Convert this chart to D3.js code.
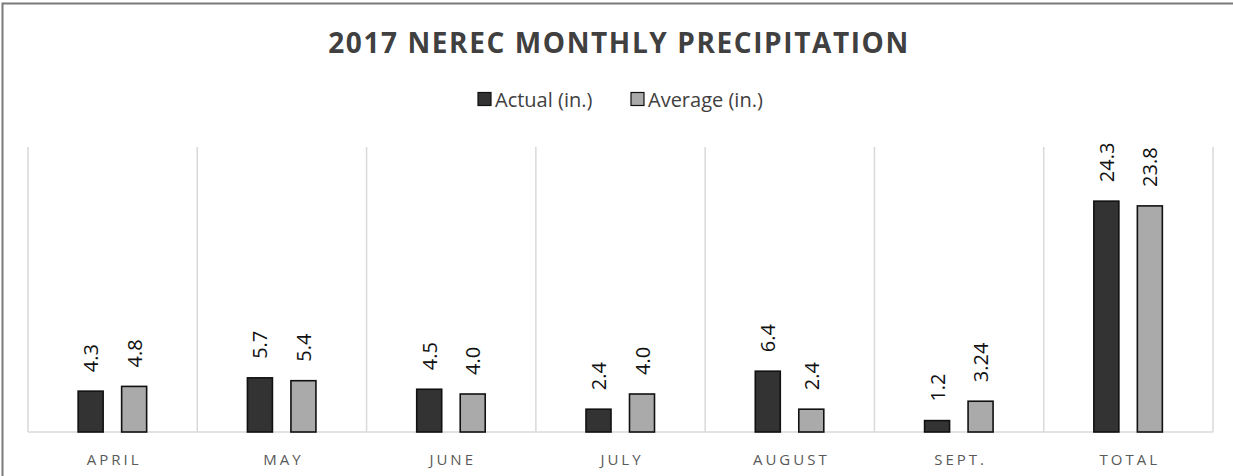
<!DOCTYPE html>
<html><head><meta charset="utf-8">
<script src="https://cdn.jsdelivr.net/npm/d3@7"></script>
<style>body{margin:0;background:#fff;} svg{display:block;}</style>
</head><body>
<script>
const categories = ["APRIL","MAY","JUNE","JULY","AUGUST","SEPT.","TOTAL"];
const actual = [4.3, 5.7, 4.5, 2.4, 6.4, 1.2, 24.3];
const average = [4.8, 5.4, 4.0, 4.0, 2.4, 3.24, 23.8];
const actualLabels = ["4.3","5.7","4.5","2.4","6.4","1.2","24.3"];
const averageLabels = ["4.8","5.4","4.0","4.0","2.4","3.24","23.8"];
const seriesNames = ["Actual (in.)","Average (in.)"];

const W = 1233, H = 476;
const svg = d3.select("body").append("svg").attr("width", W).attr("height", H);
svg.append("rect").attr("width", W).attr("height", H).attr("fill", "#fff");
// frame
svg.append("path").attr("d", `M2.5,${H} V3.5 H${W}`).attr("fill","none").attr("stroke","#7a7a7a").attr("stroke-width",2);

const x0 = d3.scaleBand().domain(categories).range([28, 1213]).padding(0);
const y = d3.scaleLinear().domain([0, 30]).range([432, 147]);

// gridlines (category separators)
const bounds = categories.map(c => x0(c)).concat([x0.range()[1]]);
svg.selectAll("line.grid").data(bounds).enter().append("line")
  .attr("x1", d => d).attr("x2", d => d).attr("y1", y(30)).attr("y2", y(0))
  .attr("stroke", "#d9d9d9").attr("stroke-width", 1.5);
svg.append("line").attr("x1", x0.range()[0]).attr("x2", x0.range()[1]).attr("y1", y(0)).attr("y2", y(0))
  .attr("stroke", "#d9d9d9").attr("stroke-width", 1.5);

const series = [
  {vals: actual, labels: actualLabels, fill: "#333333"},
  {vals: average, labels: averageLabels, fill: "#aaaaaa"}
];
const bw = 25;
series.forEach((s, si) => {
  const g = svg.append("g");
  categories.forEach((c, i) => {
    const cx = x0(c) + x0.bandwidth()/2 + (si === 0 ? -22 : 21.5);
    g.append("rect").attr("x", cx - bw/2).attr("y", y(s.vals[i])).attr("width", bw)
      .attr("height", y(0) - y(s.vals[i])).attr("fill", s.fill).attr("stroke", "#111").attr("stroke-width", 1.6);
    g.append("text").attr("transform", `translate(${cx + 7.5},${y(s.vals[i]) - 19}) rotate(-90)`)
      .attr("font-family", "Open Sans, sans-serif").attr("font-size", 20).attr("fill", "#111")
      .text(s.labels[i]);
  });
});

// category axis labels
svg.selectAll("text.cat").data(categories).enter().append("text")
  .attr("x", d => x0(d) + x0.bandwidth()/2 + 1.5).attr("y", 465)
  .attr("text-anchor", "middle").attr("font-family", "Open Sans, sans-serif").attr("font-size", 15)
  .attr("letter-spacing", 3).attr("fill", "#595959").text(d => d);

// title
svg.append("text").attr("x", 619).attr("y", 53).attr("text-anchor", "middle")
  .attr("font-family", "Open Sans, sans-serif").attr("font-weight", "bold").attr("font-size", 28)
  .attr("letter-spacing", 1.6).attr("fill", "#404040").text("2017 NEREC MONTHLY PRECIPITATION");

// legend
const leg = svg.append("g");
const legItems = [{x: 477, fill: "#333333", name: seriesNames[0]}, {x: 630, fill: "#aaaaaa", name: seriesNames[1]}];
legItems.forEach(it => {
  leg.append("rect").attr("x", it.x + 1).attr("y", 92.5).attr("width", 13).attr("height", 13)
    .attr("fill", it.fill).attr("stroke", "#111").attr("stroke-width", 1.2);
  leg.append("text").attr("x", it.x + 18).attr("y", 107).attr("font-family", "Open Sans, sans-serif")
    .attr("font-size", 20).attr("fill", "#404040").text(it.name);
});
</script>
</body></html>
